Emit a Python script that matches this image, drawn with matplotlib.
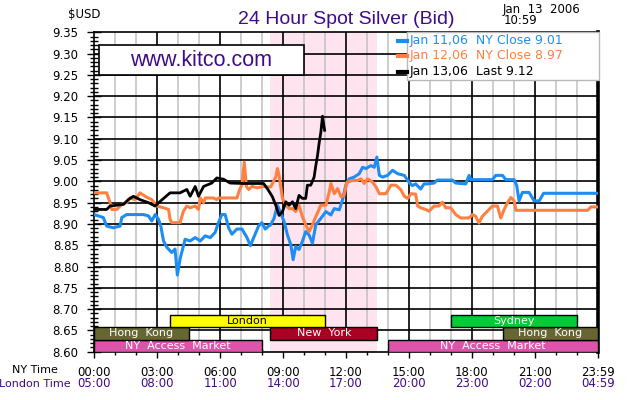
import numpy as np
import matplotlib.pyplot as plt
from matplotlib.patches import Rectangle

# --- values (hours after NY midnight, USD/oz) ---
jan11_hours = [0.0, 0.43, 0.59, 0.91, 1.23, 1.31, 1.54, 2.34, 2.58, 2.74, 2.9, 3.06, 3.17, 3.3,
               3.46, 3.69, 3.85, 3.96, 4.09, 4.33, 4.57, 4.81, 5.05, 5.29, 5.53, 5.76, 5.92, 6.08,
               6.24, 6.4, 6.56, 6.8, 7.04, 7.28, 7.44, 7.6, 7.83, 7.99, 8.15, 8.31, 8.41, 8.57,
               8.73, 8.89, 9.05, 9.21, 9.37, 9.48, 9.6, 9.76, 9.92, 10.08, 10.24, 10.4, 10.56,
               10.8, 11.04, 11.28, 11.44, 11.68, 11.83, 11.99, 12.15, 12.39, 12.63, 12.79, 12.95,
               13.19, 13.35, 13.47, 13.59, 13.75, 13.98, 14.22, 14.46, 14.78, 15.0, 15.16, 15.32,
               15.56, 15.72, 15.88, 16.2, 16.35, 17.07, 17.23, 17.71, 17.87, 17.95, 18.98, 19.14,
               19.46, 19.62, 20.02, 20.14, 20.25, 20.41, 20.73, 20.97, 21.21, 21.42, 24.0]
jan11_price = [8.922, 8.915, 8.895, 8.891, 8.895, 8.915, 8.922, 8.922, 8.919, 8.907, 8.922, 8.911,
               8.895, 8.86, 8.845, 8.833, 8.841, 8.78, 8.818, 8.864, 8.86, 8.868, 8.86, 8.872,
               8.868, 8.88, 8.903, 8.922, 8.922, 8.891, 8.876, 8.888, 8.888, 8.868, 8.849, 8.868,
               8.895, 8.903, 8.888, 8.895, 8.898, 8.913, 8.944, 8.925, 8.905, 8.874, 8.851, 8.816,
               8.847, 8.84, 8.859, 8.882, 8.874, 8.855, 8.898, 8.913, 8.929, 8.921, 8.936, 8.933,
               8.956, 8.991, 9.006, 9.01, 9.018, 9.033, 9.03, 9.037, 9.033, 9.057, 9.014, 9.01,
               9.014, 9.026, 9.018, 9.014, 8.998, 8.99, 8.994, 8.982, 8.994, 8.994, 8.996, 9.003,
               9.003, 8.996, 8.994, 9.014, 9.004, 9.004, 9.014, 9.014, 9.004, 9.004, 8.99, 8.954,
               8.974, 8.974, 8.954, 8.954, 8.972, 8.972]

jan12_hours = [0.0, 0.59, 0.75, 0.83, 1.07, 1.31, 1.54, 1.7, 1.94, 2.18, 2.42, 2.74, 2.98, 3.3,
               3.54, 3.61, 3.69, 4.09, 4.25, 4.41, 4.57, 4.81, 4.97, 5.05, 5.21, 5.29, 5.68, 5.84,
               5.92, 6.8, 6.93, 7.04, 7.15, 7.25, 7.36, 7.52, 7.75, 8.07, 8.25, 8.41, 8.65, 8.73,
               8.81, 8.89, 8.97, 9.13, 9.29, 9.45, 9.6, 9.76, 9.92, 10.08, 10.24, 10.4, 10.56,
               10.8, 11.04, 11.2, 11.28, 11.44, 11.6, 11.76, 11.91, 12.04, 12.31, 12.55, 12.71,
               12.87, 13.03, 13.27, 13.43, 13.59, 13.9, 14.14, 14.38, 14.62, 14.78, 14.94, 15.1,
               15.32, 15.42, 15.56, 15.8, 15.96, 16.2, 16.43, 16.59, 16.75, 16.99, 17.23, 17.47,
               17.87, 18.03, 18.18, 18.34, 18.5, 18.74, 18.98, 19.22, 19.38, 19.54, 19.7, 19.86,
               20.02, 20.1, 23.52, 23.68, 24.0]
jan12_price = [8.973, 8.973, 8.95, 8.934, 8.934, 8.946, 8.95, 8.961, 8.957, 8.973, 8.965, 8.957,
               8.942, 8.938, 8.934, 8.911, 8.903, 8.903, 8.93, 8.942, 8.938, 8.942, 8.934, 8.961,
               8.95, 8.961, 8.961, 8.957, 8.961, 8.961, 8.981, 8.992, 9.045, 8.988, 8.981, 8.988,
               8.985, 8.988, 8.987, 8.987, 9.01, 9.03, 9.014, 8.987, 8.96, 8.944, 8.936, 8.936,
               8.929, 8.944, 8.917, 8.898, 8.882, 8.898, 8.917, 8.944, 8.944, 8.975, 8.995, 8.971,
               8.983, 8.964, 8.967, 8.998, 9.002, 9.002, 9.006, 8.995, 9.006, 8.998, 8.987, 8.971,
               8.971, 8.991, 8.991, 8.98, 8.965, 8.96, 8.971, 8.97, 8.942, 8.938, 8.934, 8.93,
               8.942, 8.942, 8.951, 8.938, 8.938, 8.922, 8.914, 8.914, 8.922, 8.918, 8.902, 8.918,
               8.93, 8.942, 8.942, 8.914, 8.934, 8.95, 8.962, 8.954, 8.932, 8.932, 8.94, 8.94]

jan13_hours = [0.0, 0.59, 0.75, 1.39, 1.62, 1.86, 2.18, 2.58, 2.9, 3.14, 3.61, 4.09, 4.41, 4.57,
               4.81, 4.97, 5.21, 5.6, 5.84, 6.16, 6.48, 7.12, 8.07, 8.25, 8.49, 8.65, 8.81, 8.97,
               9.13, 9.29, 9.45, 9.6, 9.76, 9.92, 10.08, 10.16, 10.32, 10.48, 10.56, 10.64, 10.72,
               10.8, 10.88, 10.96, 10.98]
jan13_price = [8.934, 8.934, 8.942, 8.946, 8.957, 8.965, 8.957, 8.95, 8.942, 8.953, 8.973, 8.973,
               8.981, 8.965, 8.988, 8.965, 8.988, 8.996, 9.008, 9.005, 8.996, 8.995, 8.995, 8.983,
               8.964, 8.944, 8.92, 8.929, 8.952, 8.944, 8.952, 8.936, 8.967, 8.96, 8.96, 8.991,
               8.991, 9.01, 9.037, 9.06, 9.09, 9.115, 9.153, 9.126, 9.12]

legend_labels = ["Jan 11,06  NY Close 9.01", "Jan 12,06  NY Close 8.97", "Jan 13,06  Last 9.12"]

tick_hours = [0, 3, 6, 9, 12, 15, 18, 21, 24]
ny_labels = ["00:00", "03:00", "06:00", "09:00", "12:00", "15:00", "18:00", "21:00", "23:59"]
london_labels = ["05:00", "08:00", "11:00", "14:00", "17:00", "20:00", "23:00", "02:00", "04:59"]

session_names = ["NY Access Market", "NY Access Market", "Hong Kong", "Hong Kong",
                 "New York", "London", "Sydney"]
session_start = [0, 14, 0, 19.5, 8.4, 3.6, 17]
session_end = [8, 24, 4.5, 24, 13.5, 11, 23]

# --- styling ---
PURPLE = "#3f0a8c"
BLUE = "#1e8cf5"
ORANGE = "#ff8040"
PINK_BG = "#ffe4f0"
session_style = {
    "NY Access Market": (0, "#dd55aa", "white"),
    "Hong Kong": (1, "#666633", "white"),
    "New York": (1, "#aa0022", "white"),
    "London": (2, "#ffff00", "black"),
    "Sydney": (2, "#00cc33", "white"),
}
ROW_H = 0.0285
Y0 = 8.60

W, H = 630, 400
fig = plt.figure(figsize=(W / 100, H / 100), dpi=100)
ax = fig.add_axes([94.3 / W, 1 - 351.7 / H, (597.7 - 94.3) / W, (351.7 - 32.3) / H])
ax.set_xlim(0, 24)
ax.set_ylim(8.60, 9.35)

# New York session shading
ax.axvspan(session_start[4], session_end[4], color=PINK_BG, zorder=0, lw=0)

# grid: gray every hour, black every 3 hours and every 0.05
for h in range(1, 24):
    if h % 3:
        ax.axvline(h, color="#c0c0c0", lw=1.1, zorder=1)
    else:
        ax.axvline(h, color="black", lw=1.2, zorder=1.2)
for p in np.arange(8.65, 9.34, 0.05):
    ax.axhline(p, color="black", lw=1.2, zorder=1.2)

# bottom row of session band hides the grid
ax.add_patch(Rectangle((0, Y0), 24, ROW_H, facecolor="white", lw=0, zorder=1.5))
ax.add_patch(Rectangle((session_start[4], Y0), session_end[4] - session_start[4], ROW_H,
                       facecolor=PINK_BG, lw=0, zorder=1.6))

# trading sessions
for name, s, e in zip(session_names, session_start, session_end):
    row, fc, tc = session_style[name]
    y = Y0 + row * ROW_H
    ax.add_patch(Rectangle((s, y), e - s, ROW_H, facecolor=fc, edgecolor="black",
                           lw=1.0, zorder=3))
    ax.text((s + e) / 2, y + ROW_H / 2, name.replace(" ", "  "), color=tc, fontsize=8,
            ha="center", va="center", zorder=4)

# price lines
ax.plot(jan11_hours, jan11_price, color=BLUE, lw=2.2, zorder=5)
ax.plot(jan12_hours, jan12_price, color=ORANGE, lw=2.2, zorder=5.1)
ax.plot(jan13_hours, jan13_price, color="black", lw=2.0, zorder=5.2)

# axes
for side in ["left", "top", "bottom"]:
    ax.spines[side].set_linewidth(1.2)
ax.spines["right"].set_linewidth(2.6)
ax.set_yticks(np.arange(8.60, 9.351, 0.05))
ax.set_yticklabels([f"{v:.2f}" for v in np.arange(8.60, 9.351, 0.05)])
ax.set_yticks(np.arange(8.60, 9.351, 0.01), minor=True)
ax.set_xticks(tick_hours)
ax.set_xticklabels(ny_labels)
ax.set_xticks(range(0, 25), minor=True)
ax.tick_params(axis="y", which="major", direction="inout", length=9.5, width=1, pad=6.5,
               labelsize=8.5)
ax.tick_params(axis="y", which="minor", direction="inout", length=6, width=1)
ax.tick_params(axis="x", which="major", direction="inout", length=8, width=1, pad=6,
               labelsize=8.5)
ax.tick_params(axis="x", which="minor", direction="inout", length=5, width=1)
for h, lab in zip(tick_hours, london_labels):
    ax.text(h, -0.101, lab, transform=ax.get_xaxis_transform(), color=PURPLE,
            fontsize=8.5, ha="center", va="center")

fig.text(35 / W, 1 - 370 / H, "NY Time", fontsize=8, ha="center", va="center")
fig.text(35 / W, 1 - 384 / H, "London Time", fontsize=8, ha="center", va="center", color=PURPLE)

# kitco box
ax.add_patch(Rectangle((0.0087, 0.8663), 0.4085, 0.093, transform=ax.transAxes,
                       facecolor="white", edgecolor="black", lw=1.2, zorder=6))
ax.text(0.2126, 0.9128, "www.kitco.com", transform=ax.transAxes, color=PURPLE,
        family="Liberation Sans", fontsize=15.5, ha="center", va="center", zorder=7)

# legend box
ax.add_patch(Rectangle((0.6206, 0.8507), 0.381, 0.1493, transform=ax.transAxes,
                       facecolor="white", edgecolor="#b8b8b8", lw=1.0, zorder=6,
                       clip_on=False))
for lab, col, py in zip(legend_labels, [BLUE, ORANGE, "black"], [40.7, 56, 71.7]):
    yf = 1 - py / H
    fig.add_artist(plt.Line2D([398.3 / W, 406.7 / W], [yf, yf], color=col, lw=3,
                              zorder=8))
    fig.text(409.3 / W, yf, lab, color=col, fontsize=9, ha="left", va="center", zorder=8)

# headers
fig.text(346 / W, 1 - 19 / H, "24 Hour Spot Silver (Bid)", color=PURPLE, fontsize=14,
         family="Liberation Sans", ha="center", va="center")
fig.text(68 / W, 1 - 14 / H, "$USD", fontsize=8.5, ha="left", va="center")
fig.text(503 / W, 1 - 9.5 / H, "Jan  13  2006", fontsize=8.5, ha="left", va="center")
fig.text(504 / W, 1 - 21 / H, "10:59", fontsize=8.5, ha="left", va="center")

fig.savefig("out.png", dpi=100)
